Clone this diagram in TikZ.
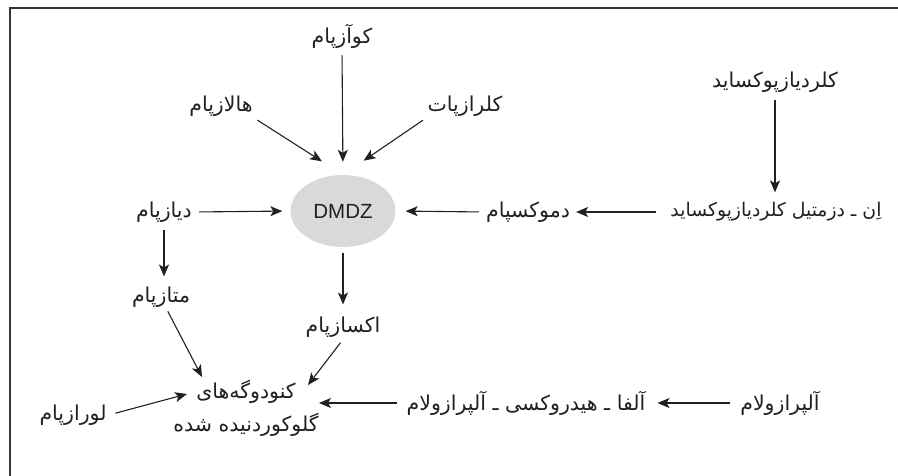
\documentclass[tikz,border=0pt]{standalone}
\usepackage{fontspec}
\setmainfont{Liberation Sans}
\newfontfamily\farsi[Script=Arabic]{DejaVu Sans}
\TeXXeTstate=1
\usetikzlibrary{arrows.meta,shapes.geometric,calc}
\newcommand{\fa}[1]{{\farsi\beginR #1\endR}}
\definecolor{ink}{HTML}{231F20}
\definecolor{ovalfill}{HTML}{D9D9D9}
\begin{document}
\begin{tikzpicture}[x=1pt,y=-1pt,
  lbl/.style={font=\fontsize{20.5}{33}\selectfont, text=ink, inner sep=2pt},
  arr/.style={draw=ink, line width=1.1pt, -{Stealth[length=12pt,width=10pt,inset=3pt]}},
  frame/.style={draw=ink!90, line width=2.2pt},
]
\useasboundingbox (0,0) rectangle (898,476);
\draw[frame] (10,477) -- (10,8) -- (899,8);

\node[lbl] (koa) at (342,36) {\fa{کوآزپام}};
\node[lbl] (hal) at (221,106) {\fa{هالازپام}};
\node[lbl] (kol) at (465,106) {\fa{کلرازپات}};
\node[ellipse, fill=ovalfill, minimum width=105pt, minimum height=72pt, inner sep=0pt,
      text=ink, font=\fontsize{20.5}{24}\selectfont] (dmdz) at (343,211) {DMDZ};
\node[lbl] (dia) at (164,212) {\fa{دیازپام}};
\node[lbl] (demox) at (528,212) {\fa{دموکسپام}};
\node[lbl, font=\fontsize{18.8}{30}\selectfont] (ndes) at (776,212) {\fa{اِن ـ دزمتیل کلردیازپوکساید}};
\node[lbl] (chl) at (775,82) {\fa{کلردیازپوکساید}};
\node[lbl] (meta) at (161,297) {\fa{متازپام}};
\node[lbl] (oxa) at (343,327) {\fa{اکسازپام}};
\node[lbl, align=center] (conj) at (246,408) {\fa{کنودوگه‌های}\\\fa{گلوکوردنیده شده}};
\node[lbl] (lor) at (73,415) {\fa{لورازپام}};
\node[lbl] (alfa) at (526,403) {\fa{آلفا ـ هیدروکسی ـ آلپرازولام}};
\node[lbl] (alp) at (780,403) {\fa{آلپرازولام}};

\draw[arr, shorten <=5pt, shorten >=13pt] (koa.south) -- (dmdz.north);
\draw[arr, shorten <=3pt, shorten >=25pt] (hal.south east) -- (dmdz.north);
\draw[arr, shorten <=3pt, shorten >=25pt] (kol.south west) -- (dmdz.north);
\draw[arr, shorten <=5pt, shorten >=8pt] (dia.east) -- (dmdz.west);
\draw[arr, shorten <=5pt, shorten >=10pt] (demox.west) -- (dmdz.east);
\draw[arr, shorten <=12pt, shorten >=4pt] (ndes.west) -- (demox.east);
\draw[arr, shorten <=6pt, shorten >=8pt] (chl.south) -- (chl.south |- ndes.north);
\draw[arr, shorten <=6pt, shorten >=8pt] (dia.south) -- (dia.south |- meta.north);
\draw[arr, shorten <=6pt, shorten >=10pt] (dmdz.south) -- (dmdz.south |- oxa.north);
\draw[arr, shorten <=2pt] (meta.-65) -- ($(conj.center)+(-44,-31)$);
\draw[arr, shorten <=4pt] (oxa.south) -- ($(conj.center)+(62,-23)$);
\draw[arr, shorten <=7pt] (lor.east) -- ($(conj.center)+(-59,-14)$);
\draw[arr, shorten <=7pt] (alfa.west) -- ($(conj.center)+(73,-5)$);
\draw[arr, shorten <=8pt, shorten >=10pt] (alp.west) -- (alfa.east);
\end{tikzpicture}
\end{document}
